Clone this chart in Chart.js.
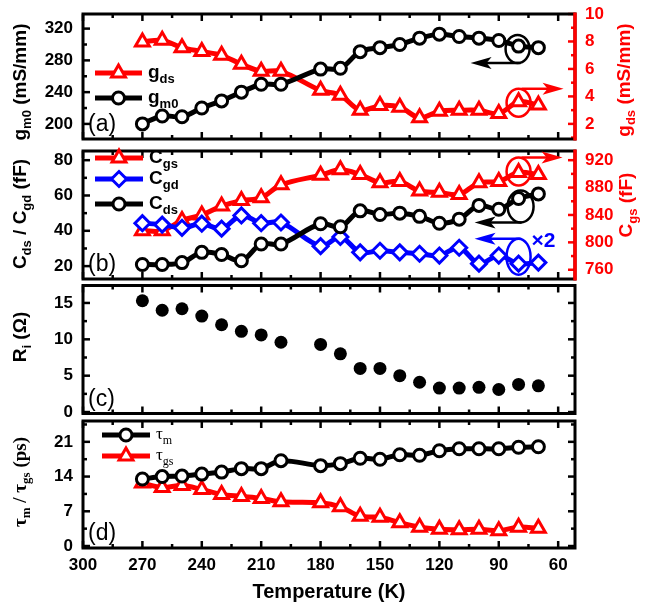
<!DOCTYPE html>
<html>
<head>
<meta charset="utf-8">
<script src="https://cdn.jsdelivr.net/npm/chart.js@4.4.1/dist/chart.umd.min.js"></script>
<style>
  body { margin: 0; background: #fff; }
  #wrap { position: relative; width: 654px; height: 603px; background: #fff; overflow: hidden; }
  #wrap canvas { position: absolute; left: 0; }
</style>
</head>
<body>
<div id="wrap">
  <canvas id="cA" width="654" height="150" style="top:0px;width:654px;height:150px"></canvas>
  <canvas id="cB" width="654" height="150" style="top:140px;width:654px;height:150px"></canvas>
  <canvas id="cC" width="654" height="141" style="top:279px;width:654px;height:141px"></canvas>
  <canvas id="cD" width="654" height="193" style="top:410px;width:654px;height:193px"></canvas>
</div>
<script>
// temperatures (K), 190 K is missing in the measurement
const temps = [270, 260, 250, 240, 230, 220, 210, 200, 180, 170, 160, 150, 140, 130, 120, 110, 100, 90, 80, 70];
const xLabels = [300, 270, 240, 210, 180, 150, 120, 90, 60];

// (a) transconductance / output conductance
const gm0 = [200, 210, 209, 220, 229, 240, 250, 250, 269, 270, 291, 296, 300, 308, 313, 310, 308, 305, 298, 296];
const gds = [7.97, 8.08, 7.55, 7.27, 6.99, 6.34, 5.83, 5.83, 4.44, 4.08, 2.99, 3.33, 3.22, 2.45, 2.92, 2.99, 2.99, 2.76, 3.61, 3.38];
// (b) capacitances
const cgs = [817, 817, 832, 840, 853, 861, 865, 884, 898, 906, 899, 887, 889, 875, 873, 870, 887, 889, 902, 899];
const cgd = [44.3, 43.5, 41.7, 44, 41.2, 48.7, 44.3, 44.7, 31.3, 36.5, 27.8, 28.7, 27.8, 27, 26, 30.4, 21.4, 26, 21.4, 22];
const cds = [20.9, 20.9, 22, 27.8, 26.6, 23, 32.5, 32.5, 44, 42.3, 51.3, 49.2, 50, 48.2, 44.3, 46.6, 54.4, 52.2, 58.3, 60.9];
// (c) intrinsic resistance
const ri = [15.3, 14.0, 14.2, 13.2, 12.0, 11.1, 10.6, 9.6, 9.3, 8.0, 6.0, 6.0, 5.0, 4.1, 3.3, 3.3, 3.4, 3.1, 3.8, 3.6];
// (d) delays
const tauM = [13.5, 14.0, 14.1, 14.5, 14.9, 15.6, 15.6, 17.2, 16.2, 16.6, 17.7, 17.5, 18.4, 18.3, 19.2, 19.6, 19.6, 19.6, 19.9, 20.0];
const tauGs = [12.7, 11.8, 12.2, 11.4, 10.4, 10.0, 9.6, 8.9, 8.7, 7.9, 6.0, 5.8, 4.7, 3.8, 3.4, 3.3, 3.4, 3.1, 3.8, 3.6];

const RED = "#ff0000", BLUE = "#0000ff", BLACK = "#000000";
const SANS = "'Liberation Sans', Arial, sans-serif";
const SERIF = "'Liberation Serif', 'Times New Roman', serif";
Chart.defaults.font.family = SANS;

function seg(ctx, x1, y1, x2, y2) {
    ctx.beginPath();
    ctx.moveTo(x1, y1);
    ctx.lineTo(x2, y2);
    ctx.stroke();
}

// text with subscripts: parts = [[text, isSub], ...]
function richText(ctx, x, y, parts, size, family, weight, align) {
    const subSize = Math.round(size * 0.68);
    const fontOf = sub => weight + " " + (sub ? subSize : size) + "px " + family;
    let w = 0;
    parts.forEach(p => { ctx.font = fontOf(p[1]); w += ctx.measureText(p[0]).width; });
    let cx = align === "center" ? x - w / 2 : x;
    ctx.textAlign = "left";
    ctx.textBaseline = "middle";
    parts.forEach(p => {
        ctx.font = fontOf(p[1]);
        ctx.fillText(p[0], cx, p[1] ? y + size * 0.32 : y);
        cx += ctx.measureText(p[0]).width;
    });
}

function vTitle(ctx, cx, cy, parts, color, family) {
    ctx.save();
    ctx.fillStyle = color;
    ctx.translate(cx, cy);
    ctx.rotate(-Math.PI / 2);
    richText(ctx, 0, 0, parts, 19, family || SANS, "bold", "center");
    ctx.restore();
}

function marker(ctx, style, x, y, r, color) {
    ctx.save();
    ctx.strokeStyle = color;
    ctx.fillStyle = "#fff";
    ctx.lineWidth = 3;
    ctx.beginPath();
    if (style === "circle") {
        ctx.arc(x, y, r, 0, Math.PI * 2);
    } else if (style === "triangle") {
        ctx.moveTo(x, y - r);
        ctx.lineTo(x + r * 0.866, y + r * 0.5);
        ctx.lineTo(x - r * 0.866, y + r * 0.5);
        ctx.closePath();
    } else {
        ctx.moveTo(x, y - r);
        ctx.lineTo(x + r, y);
        ctx.lineTo(x, y + r);
        ctx.lineTo(x - r, y);
        ctx.closePath();
    }
    ctx.fill();
    ctx.stroke();
    ctx.restore();
}

function legendItem(ctx, y, color, style, r, parts, x1, x2, family, size, weight) {
    ctx.save();
    ctx.strokeStyle = color;
    ctx.lineWidth = 5;
    seg(ctx, x1, y, x2, y);
    marker(ctx, style, (x1 + x2) / 2, y, r, color);
    ctx.fillStyle = BLACK;
    richText(ctx, x2 + 6, y, parts, size || 19, family || SANS, weight || "bold", "left");
    ctx.restore();
}

function arrow(ctx, x1, y, x2, color) {
    const d = x2 > x1 ? 1 : -1;
    ctx.save();
    ctx.strokeStyle = color;
    ctx.fillStyle = color;
    ctx.lineWidth = 2.5;
    seg(ctx, x1, y, x2 - d * 14, y);
    ctx.beginPath();
    ctx.moveTo(x2, y);
    ctx.lineTo(x2 - d * 21, y - 6);
    ctx.lineTo(x2 - d * 16, y);
    ctx.lineTo(x2 - d * 21, y + 6);
    ctx.closePath();
    ctx.fill();
    ctx.restore();
}

function ellipse(ctx, cx, cy, rx, ry, color) {
    ctx.save();
    ctx.strokeStyle = color;
    ctx.lineWidth = 2.5;
    ctx.beginPath();
    ctx.ellipse(cx, cy, rx, ry, 0, 0, Math.PI * 2);
    ctx.stroke();
    ctx.restore();
}

// inward ticks + box; yAxes: [{id, side, first, step, color}]
function drawFrame(chart, yAxes, redRight) {
    const { ctx, chartArea: a, scales } = chart;
    ctx.save();
    ctx.lineWidth = 2.5;
    ctx.strokeStyle = BLACK;
    const xs = scales.x;
    for (let v = 300; v >= xs.min; v -= 15) {
        const px = xs.getPixelForValue(v);
        const len = v % 30 === 0 ? 7 : 4;
        seg(ctx, px, a.top, px, a.top + len);
        seg(ctx, px, a.bottom, px, a.bottom - len);
    }
    yAxes.forEach(ax => {
        const s = scales[ax.id];
        const x0 = ax.side === "left" ? a.left : a.right;
        const d = ax.side === "left" ? 1 : -1;
        ctx.strokeStyle = ax.color;
        for (let k = -4; k < 40; k++) {
            const v = ax.first + k * ax.step / 2;
            if (v < s.min || v > s.max) continue;
            const py = s.getPixelForValue(v);
            const len = Math.abs(k % 2) === 0 ? 7 : 4;
            seg(ctx, x0, py, x0 + d * len, py);
        }
    });
    ctx.lineWidth = 3;
    ctx.strokeStyle = BLACK;
    ctx.strokeRect(a.left, a.top, a.right - a.left, a.bottom - a.top);
    if (redRight) {
        ctx.strokeStyle = RED;
        ctx.lineWidth = 3.5;
        seg(ctx, a.right, a.top - 1.5, a.right, a.bottom + 1.5);
    }
    ctx.restore();
}

function panelLabel(chart, text) {
    const { ctx, chartArea: a } = chart;
    ctx.save();
    ctx.fillStyle = BLACK;
    ctx.font = "23px " + SANS;
    ctx.textAlign = "left";
    ctx.textBaseline = "alphabetic";
    ctx.fillText(text, a.left + 5, a.bottom - 8);
    ctx.restore();
}

function xScale(show) {
    return {
        type: "linear", min: 51.5, max: 300, reverse: true, display: show,
        grid: { display: false, drawTicks: false }, border: { display: false },
        afterBuildTicks: s => { s.ticks = xLabels.map(v => ({ value: v })); },
        afterFit: s => { s.height = show ? 55 : 0; s.paddingLeft = 0; s.paddingRight = 0; },
        ticks: { color: BLACK, font: { size: 17, weight: "bold" }, padding: 7, autoSkip: false, maxRotation: 0 }
    };
}

function yScale(pos, min, max, tickVals, color) {
    return {
        type: "linear", position: pos, min: min, max: max,
        grid: { display: false, drawTicks: false }, border: { display: false },
        afterBuildTicks: s => { s.ticks = tickVals.map(v => ({ value: v })); },
        // fixed axis width, and no extra room for the end labels
        afterFit: s => { s.width = pos === "left" ? 83 : 79; s.paddingTop = 0; s.paddingBottom = 0; },
        ticks: { color: color, font: { size: 17, weight: "bold" }, padding: 10, autoSkip: false }
    };
}

function series(vals, color, style, radius, axis) {
    return {
        data: temps.map((t, i) => ({ x: t, y: vals[i] })),
        yAxisID: axis,
        borderColor: color,
        borderWidth: 5,
        tension: 0.35,
        pointStyle: style,
        pointRadius: radius,
        pointBorderWidth: 3,
        pointBackgroundColor: "#fff",
        pointBorderColor: color,
        fill: false
    };
}

function baseOptions(scales, padding) {
    return {
        responsive: false,
        maintainAspectRatio: false,
        animation: false,
        layout: { padding: padding },
        plugins: { legend: { display: false }, tooltip: { enabled: false } },
        scales: scales
    };
}

// ---------- (a) ----------
new Chart(document.getElementById("cA"), {
    type: "line",
    data: {
        datasets: [
            series(gm0, BLACK, "circle", 6, "y"),
            series(gds, RED, "triangle", 8, "y2")
        ]
    },
    options: baseOptions({
        x: xScale(false),
        y: yScale("left", 181, 338.4, [200, 240, 280, 320], BLACK),
        y2: yScale("right", 0.9, 10, [2, 4, 6, 8, 10], RED)
    }, { top: 14, bottom: 5, left: 0, right: 0 }),
    plugins: [{
        id: "decoA",
        afterDraw(chart) {
            const { ctx, scales } = chart;
            drawFrame(chart, [
                { id: "y", side: "left", first: 200, step: 40, color: BLACK },
                { id: "y2", side: "right", first: 2, step: 2, color: RED }
            ], true);
            panelLabel(chart, "(a)");
            vTitle(ctx, 21, 82, [["g", false], ["m0", true], [" (mS/mm)", false]], BLACK);
            vTitle(ctx, 625, 80, [["g", false], ["ds", true], [" (mS/mm)", false]], RED);
            legendItem(ctx, 73, RED, "triangle", 8, [["g", false], ["ds", true]], 95, 142);
            legendItem(ctx, 98, BLACK, "circle", 6, [["g", false], ["m0", true]], 95, 142);
            const cx = scales.x.getPixelForValue(80);
            const cyK = scales.y.getPixelForValue(gm0[18]) + 3;
            ellipse(ctx, cx - 1, cyK, 12, 14, BLACK);
            arrow(ctx, cx + 2, cyK + 14, cx - 48, BLACK);
            const cyR = scales.y2.getPixelForValue(gds[18]) + 1;
            ellipse(ctx, cx, cyR, 12, 14, RED);
            arrow(ctx, cx + 3, cyR - 14, cx + 45, RED);
        }
    }]
});

// ---------- (b) ----------
new Chart(document.getElementById("cB"), {
    type: "line",
    data: {
        datasets: [
            series(cds, BLACK, "circle", 6, "y"),
            series(cgd, BLUE, "rectRot", 7.5, "y"),
            series(cgs, RED, "triangle", 8, "y2")
        ]
    },
    options: baseOptions({
        x: xScale(false),
        y: yScale("left", 12.7, 85.2, [20, 40, 60, 80], BLACK),
        y2: yScale("right", 746.5, 933.4, [760, 800, 840, 880, 920], RED)
    }, { top: 5, bottom: 6, left: 0, right: 0 }),
    plugins: [{
        id: "decoB",
        afterDraw(chart) {
            const { ctx, scales } = chart;
            drawFrame(chart, [
                { id: "y", side: "left", first: 20, step: 20, color: BLACK },
                { id: "y2", side: "right", first: 760, step: 40, color: RED }
            ], true);
            panelLabel(chart, "(b)");
            vTitle(ctx, 21, 74, [["C", false], ["ds", true], [" / C", false], ["gd", true], [" (fF)", false]], BLACK);
            vTitle(ctx, 627, 65, [["C", false], ["gs", true], [" (fF)", false]], RED);
            legendItem(ctx, 18, RED, "triangle", 8, [["C", false], ["gs", true]], 95, 143);
            legendItem(ctx, 39, BLUE, "rectRot", 7.5, [["C", false], ["gd", true]], 95, 143);
            legendItem(ctx, 64, BLACK, "circle", 6, [["C", false], ["ds", true]], 95, 143);
            const cx = scales.x.getPixelForValue(80);
            const cyR = scales.y2.getPixelForValue(cgs[18]) - 1;
            ellipse(ctx, cx, cyR, 12, 14, RED);
            arrow(ctx, cx + 3, cyR - 14, cx + 44, RED);
            const cyK = scales.y.getPixelForValue(cds[18]) + 8;
            ellipse(ctx, cx + 2, cyK, 13, 16, BLACK);
            arrow(ctx, cx + 3, cyK + 16, cx - 44, BLACK);
            const cyB = scales.y.getPixelForValue(cgd[18]) - 7;
            ellipse(ctx, cx, cyB, 12, 18, BLUE);
            arrow(ctx, cx + 2, cyB - 18, cx - 44, BLUE);
            ctx.save();
            ctx.fillStyle = BLUE;
            ctx.font = "bold 21px " + SANS;
            ctx.textAlign = "left";
            ctx.textBaseline = "middle";
            ctx.fillText("×2", cx + 13, cyB - 15);
            ctx.restore();
        }
    }]
});

// ---------- (c) ----------
new Chart(document.getElementById("cC"), {
    type: "line",
    data: {
        datasets: [{
            data: temps.map((t, i) => ({ x: t, y: ri[i] })),
            showLine: false,
            pointStyle: "circle",
            pointRadius: 6.5,
            pointBackgroundColor: BLACK,
            pointBorderColor: BLACK,
            pointBorderWidth: 0
        }]
    },
    options: baseOptions({
        x: xScale(false),
        y: yScale("left", -0.2, 17.4, [0, 5, 10, 15], BLACK)
    }, { top: 5, bottom: 5, left: 0, right: 79 }),
    plugins: [{
        id: "decoC",
        afterDraw(chart) {
            drawFrame(chart, [
                { id: "y", side: "left", first: 0, step: 5, color: BLACK },
                { id: "y", side: "right", first: 0, step: 5, color: BLACK }
            ], false);
            panelLabel(chart, "(c)");
            vTitle(chart.ctx, 21, 58, [["R", false], ["i", true], [" (Ω)", false]], BLACK);
        }
    }]
});

// ---------- (d) ----------
new Chart(document.getElementById("cD"), {
    type: "line",
    data: {
        datasets: [
            series(tauM, BLACK, "circle", 6, "y"),
            series(tauGs, RED, "triangle", 8, "y")
        ]
    },
    options: baseOptions({
        x: xScale(true),
        y: yScale("left", -0.4, 25.2, [0, 7, 14, 21], BLACK)
    }, { top: 5, bottom: 0, left: 0, right: 79 }),
    plugins: [{
        id: "decoD",
        afterDraw(chart) {
            const { ctx, chartArea: a } = chart;
            drawFrame(chart, [
                { id: "y", side: "left", first: 0, step: 7, color: BLACK },
                { id: "y", side: "right", first: 0, step: 7, color: BLACK }
            ], false);
            panelLabel(chart, "(d)");
            vTitle(ctx, 21, 72, [["τ", false], ["m", true], [" / τ", false], ["gs", true], [" (ps)", false]], BLACK, SERIF);
            legendItem(ctx, 25, BLACK, "circle", 6, [["τ", false], ["m", true]], 102, 150, SERIF, 17, "normal");
            legendItem(ctx, 46, RED, "triangle", 8, [["τ", false], ["gs", true]], 102, 150, SERIF, 17, "normal");
            ctx.save();
            ctx.fillStyle = BLACK;
            ctx.font = "bold 20px " + SANS;
            ctx.textAlign = "center";
            ctx.textBaseline = "middle";
            ctx.fillText("Temperature (K)", (a.left + a.right) / 2, 182);
            ctx.restore();
        }
    }]
});
</script>
</body>
</html>
